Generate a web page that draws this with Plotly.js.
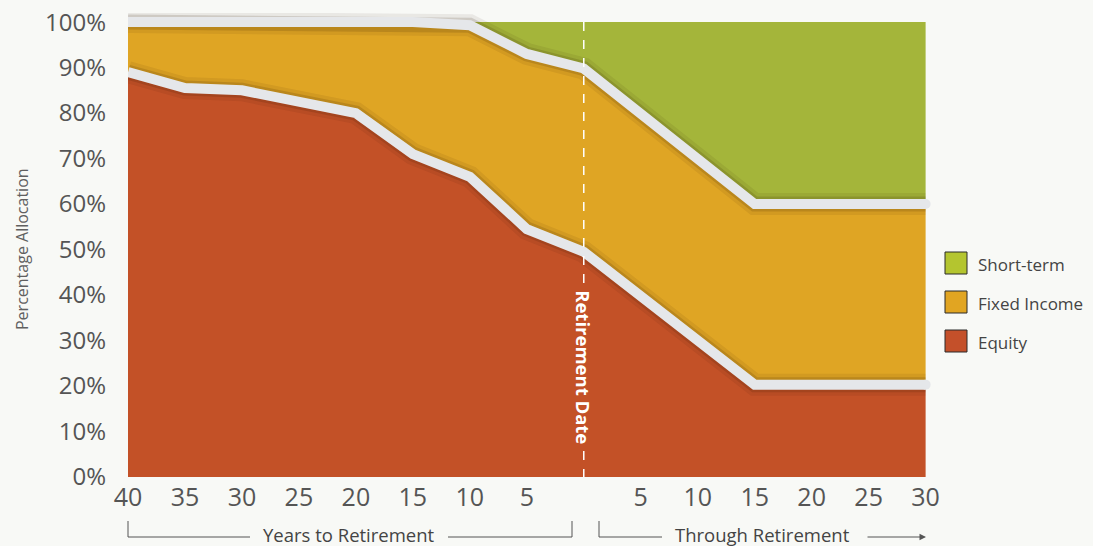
<!DOCTYPE html>
<html>
<head>
<meta charset="utf-8">
<script src="https://cdn.plot.ly/plotly-3.0.1.min.js"></script>
<style>
html,body{margin:0;padding:0;background:#f8f9f6;}
#chart{width:1093px;height:546px;}
</style>
</head>
<body>
<div id="chart"></div>
<script>
// ---- data ----
var years = [-40, -35, -30, -25, -20, -15, -10, -5, 0, 15, 30];
var equity = [89, 85.5, 85, 82.5, 80, 71, 66, 54.5, 49.5, 20.3, 20.3];
var equityPlusFixed = [100, 100, 100, 100, 100, 100, 99.3, 93, 89.8, 60, 60];
var total = [100, 100, 100, 100, 100, 100, 100, 100, 100, 100, 100];
var xTickVals = [-40, -35, -30, -25, -20, -15, -10, -5, 5, 10, 15, 20, 25, 30];
var xTickText = ["40", "35", "30", "25", "20", "15", "10", "5", "5", "10", "15", "20", "25", "30"];
var yTickVals = [0, 10, 20, 30, 40, 50, 60, 70, 80, 90, 100];
var yTickText = ["0%", "10%", "20%", "30%", "40%", "50%", "60%", "70%", "80%", "90%", "100%"];
var seriesNames = ["Short-term", "Fixed Income", "Equity"];
var legendColors = ["#b4c52f", "#e1a522", "#c4502a"];

// ---- styling ----
var cEquity = "#c35127", cFixed = "#dfa524", cShort = "#a4b53a";
var lineCol = "#e5e7ea";
var L = 128, T = 13, W = 809, H = 464;
function px(x){ return (x - L) / W; }
function py(y){ return (T + H - y) / H; }

var last = years.length - 1;
var traces = [
  {x: years, y: equity, type: "scatter", mode: "lines", fill: "tozeroy", fillcolor: cEquity, line: {width: 0}, hoverinfo: "skip", showlegend: false},
  {x: years, y: equityPlusFixed, type: "scatter", mode: "lines", fill: "tonexty", fillcolor: cFixed, line: {width: 0}, hoverinfo: "skip", showlegend: false},
  {x: years, y: total, type: "scatter", mode: "lines", fill: "tonexty", fillcolor: cShort, line: {width: 0}, hoverinfo: "skip", showlegend: false}
];
[equity, equityPlusFixed].forEach(function(s){
  traces.push({x: years, y: s, type: "scatter", mode: "lines", line: {width: 22, color: "rgba(40,20,0,0.07)"}, hoverinfo: "skip", showlegend: false});
  traces.push({x: years, y: s, type: "scatter", mode: "lines", line: {width: 15, color: "rgba(40,20,0,0.14)"}, hoverinfo: "skip", showlegend: false});
  traces.push({x: years, y: s, type: "scatter", mode: "lines", line: {width: 10, color: lineCol}, hoverinfo: "skip", showlegend: false});
  traces.push({x: [years[last]], y: [s[last]], type: "scatter", mode: "markers", marker: {size: 10, color: lineCol}, hoverinfo: "skip", showlegend: false, cliponaxis: false});
});

var gray = "#555555";
var shapes = [
  // retirement date dashed line (broken around label)
  {type: "line", xref: "x", yref: "paper", x0: 0, x1: 0, y0: py(22), y1: py(284), line: {color: "#ffffff", width: 1.5, dash: "dash"}},
  {type: "line", xref: "x", yref: "paper", x0: 0, x1: 0, y0: py(451), y1: py(477), line: {color: "#ffffff", width: 1.5, dash: "dash"}},
  // brackets
  {type: "line", xref: "paper", yref: "paper", x0: px(128), x1: px(128), y0: py(521), y1: py(537), line: {color: gray, width: 1}},
  {type: "line", xref: "paper", yref: "paper", x0: px(128), x1: px(250), y0: py(537), y1: py(537), line: {color: gray, width: 1}},
  {type: "line", xref: "paper", yref: "paper", x0: px(448), x1: px(572), y0: py(537), y1: py(537), line: {color: gray, width: 1}},
  {type: "line", xref: "paper", yref: "paper", x0: px(572), x1: px(572), y0: py(521), y1: py(537), line: {color: gray, width: 1}},
  {type: "line", xref: "paper", yref: "paper", x0: px(599), x1: px(599), y0: py(521), y1: py(537), line: {color: gray, width: 1}},
  {type: "line", xref: "paper", yref: "paper", x0: px(599), x1: px(662), y0: py(537), y1: py(537), line: {color: gray, width: 1}}
];
var legTops = [252, 291, 330];
for (var i = 0; i < 3; i++) {
  shapes.push({type: "rect", xref: "paper", yref: "paper", x0: px(945), x1: px(967), y0: py(legTops[i]), y1: py(legTops[i] + 22), fillcolor: legendColors[i], line: {color: "#2a2a2a", width: 1}});
}

var annotations = [
  {text: "Retirement Date", xref: "x", yref: "paper", x: 0, y: py(367), xanchor: "center", yanchor: "middle", showarrow: false, textangle: 90, font: {family: "Open Sans, sans-serif", size: 18.5, color: "#ffffff", weight: "bold"}},
  {text: "Years to Retirement", xref: "paper", yref: "paper", x: px(349), y: py(534), xanchor: "center", yanchor: "middle", showarrow: false, font: {family: "Open Sans, sans-serif", size: 18.5, color: "#444444"}},
  {text: "Through Retirement", xref: "paper", yref: "paper", x: px(762), y: py(534), xanchor: "center", yanchor: "middle", showarrow: false, font: {family: "Open Sans, sans-serif", size: 18.5, color: "#444444"}},
  {text: "", xref: "paper", yref: "paper", x: px(926), y: py(537), ax: -60, ay: 0, showarrow: true, arrowhead: 2, arrowsize: 1.3, arrowwidth: 1, arrowcolor: gray},
  {text: "Percentage Allocation", xref: "paper", yref: "paper", x: px(22), y: py(249), xanchor: "center", yanchor: "middle", showarrow: false, textangle: -90, font: {family: "Open Sans, sans-serif", size: 16, color: "#606060"}}
];
for (var j = 0; j < 3; j++) {
  annotations.push({text: seriesNames[j], xref: "paper", yref: "paper", x: px(976), y: py(legTops[j] + 12), xanchor: "left", yanchor: "middle", showarrow: false, font: {family: "Open Sans, sans-serif", size: 17, color: "#444444"}});
}

var layout = {
  width: 1093, height: 546,
  margin: {l: L, r: 1093 - L - W, t: T, b: 546 - T - H, pad: 0},
  paper_bgcolor: "#f8f9f6", plot_bgcolor: "#f8f9f6",
  showlegend: false,
  xaxis: {range: [-40, 31], tickvals: xTickVals, ticktext: xTickText, showgrid: false, zeroline: false, showline: false, ticks: "", ticklabelstandoff: 3,
          tickfont: {family: "Open Sans, sans-serif", size: 25, color: gray}, fixedrange: true},
  yaxis: {range: [0, 102], tickvals: yTickVals, ticktext: yTickText, showgrid: false, zeroline: false, showline: false, ticks: "", ticklabelstandoff: 21,
          tickfont: {family: "Open Sans, sans-serif", size: 24, color: gray}, fixedrange: true},
  shapes: shapes,
  annotations: annotations
};
Plotly.newPlot("chart", traces, layout, {displayModeBar: false, staticPlot: true});
</script>
</body>
</html>
